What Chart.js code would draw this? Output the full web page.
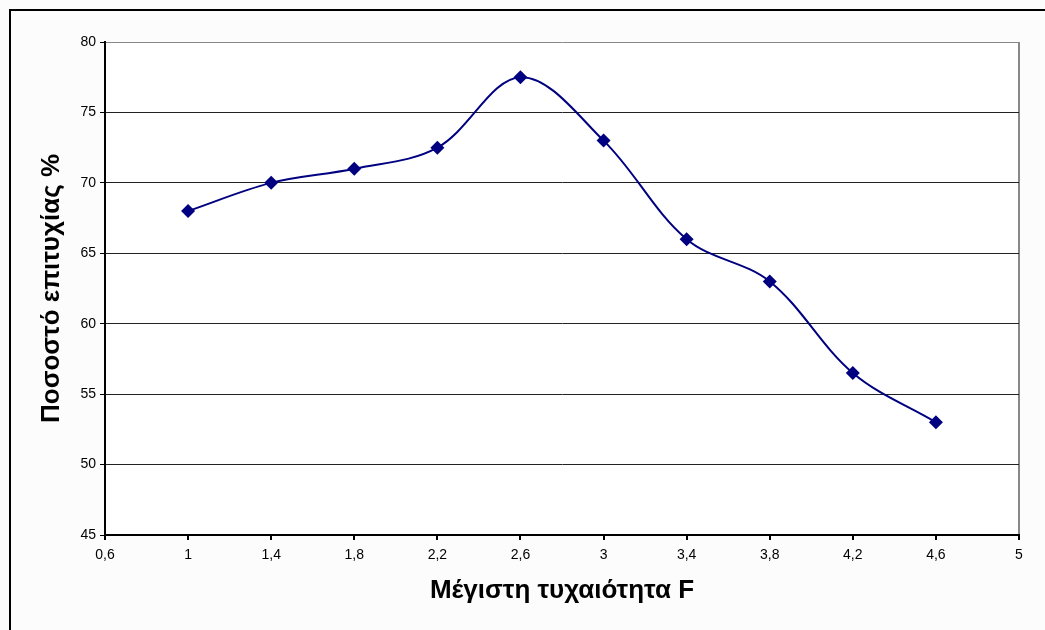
<!DOCTYPE html>
<html>
<head>
<meta charset="utf-8">
<script src="https://cdn.jsdelivr.net/npm/chart.js@4/dist/chart.umd.min.js"></script>
<style>
  html, body { margin: 0; padding: 0; background: #fcfcfc; }
  #wrap { position: relative; width: 1045px; height: 630px; overflow: hidden; }
  #frame { position: absolute; left: 9px; top: 9px; width: 1100px; height: 700px;
           border-top: 2px solid #000; border-left: 2px solid #000; }
  canvas { position: absolute; left: 0; top: 0; }
</style>
</head>
<body>
<div id="wrap">
  <div id="frame"></div>
  <canvas id="chart" width="1045" height="630"></canvas>
</div>
<script>
// Μέγιστη τυχαιότητα F
const fValues = [1, 1.4, 1.8, 2.2, 2.6, 3, 3.4, 3.8, 4.2, 4.6]
// Ποσοστό επιτυχίας %
const successRate = [68, 70, 71, 72.5, 77.5, 73, 66, 63, 56.5, 53]

const xTicks = [0.6, 1, 1.4, 1.8, 2.2, 2.6, 3, 3.4, 3.8, 4.2, 4.6, 5]
const yTicks = [45, 50, 55, 60, 65, 70, 75, 80]

const points = fValues.map((f, i) => ({ x: f, y: successRate[i] }))

const tickFont = { family: "'Liberation Sans', Arial, sans-serif", size: 14 }
const titleFont = { family: "'Liberation Sans', Arial, sans-serif", size: 26, weight: 'bold' }

// white plot area, page background stays off-white
const plotBg = {
    id: 'plotBg',
    beforeDraw(chart) {
        const { ctx, chartArea: a } = chart
        ctx.save()
        ctx.fillStyle = '#ffffff'
        ctx.fillRect(a.left, a.top, a.right - a.left, a.bottom - a.top)
        ctx.restore()
    }
}

new Chart(document.getElementById('chart'), {
    type: 'scatter',
    data: {
        datasets: [{
            label: 'Ποσοστό επιτυχίας',
            data: points,
            showLine: true,
            tension: 0.35,
            borderColor: '#000080',
            borderWidth: 2,
            backgroundColor: '#000080',
            pointStyle: 'rectRot',
            pointRadius: 7,
            pointHoverRadius: 7,
            pointBorderWidth: 0
        }]
    },
    options: {
        responsive: false,
        animation: false,
        layout: { padding: { top: 42, right: 26, left: 32, bottom: 20 } },
        plugins: {
            legend: { display: false },
            tooltip: { enabled: false }
        },
        scales: {
            x: {
                type: 'linear',
                min: 0.6,
                max: 5,
                afterBuildTicks: scale => { scale.ticks = xTicks.map(v => ({ value: v })) },
                afterFit: scale => { scale.height = 630 - 535 - 20 },
                ticks: {
                    font: tickFont,
                    color: '#000',
                    padding: 7,
                    maxRotation: 0,
                    callback: v => String(+v.toFixed(1)).replace('.', ',')
                },
                grid: {
                    drawOnChartArea: true,
                    color: ctx => ctx.tick && ctx.tick.value === 5 ? '#888888' : 'rgba(0,0,0,0)',
                    lineWidth: 2,
                    tickLength: 5,
                    tickColor: '#000'
                },
                border: { color: '#000', width: 2 },
                title: {
                    display: true,
                    text: 'Μέγιστη τυχαιότητα F',
                    font: titleFont,
                    color: '#000',
                    padding: { top: 0, bottom: 4 }
                }
            },
            y: {
                type: 'linear',
                min: 45,
                max: 80,
                afterBuildTicks: scale => { scale.ticks = yTicks.map(v => ({ value: v })) },
                afterFit: scale => { scale.width = 105 - 32 },
                ticks: {
                    font: tickFont,
                    color: '#000',
                    padding: 4
                },
                grid: {
                    color: ctx => ctx.tick && ctx.tick.value === 80 ? '#888888' : '#222222',
                    lineWidth: 1,
                    tickLength: 5,
                    tickColor: '#000'
                },
                border: { color: '#000', width: 2 },
                title: {
                    display: true,
                    text: 'Ποσοστό επιτυχίας %',
                    font: titleFont,
                    color: '#000',
                    padding: { top: 4, bottom: 0 }
                }
            }
        }
    },
    plugins: [plotBg]
})
</script>
</body>
</html>
